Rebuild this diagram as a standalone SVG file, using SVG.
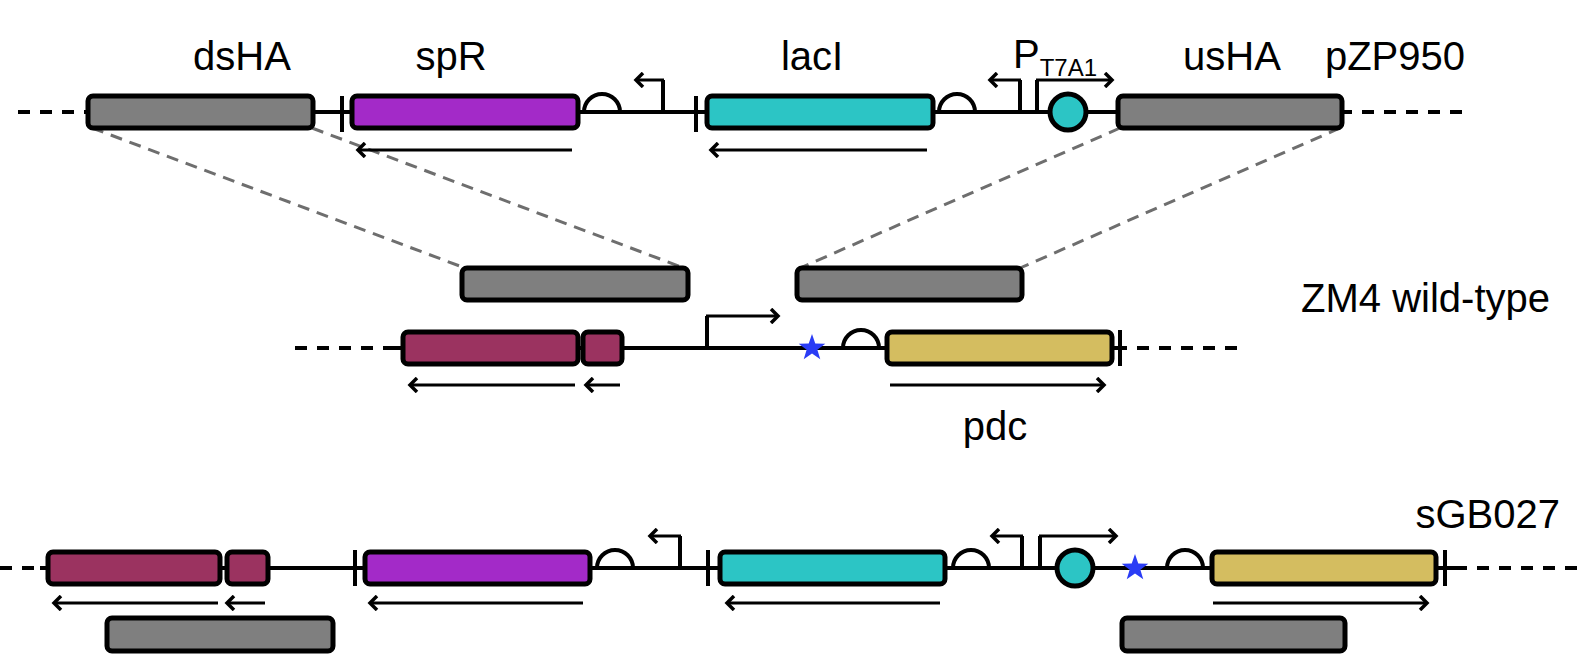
<svg xmlns="http://www.w3.org/2000/svg" width="1580" height="663" viewBox="0 0 1580 663">
<defs>
<style>
.bb{stroke:#000;stroke-width:4;fill:none}
.ds{stroke:#000;stroke-width:4;fill:none;stroke-dasharray:12 10}
.box{stroke:#000;stroke-width:5}
.g{fill:#7f7f7f}.p{fill:#a32ac8}.c{fill:#2cc5c5}.m{fill:#9b3360}.y{fill:#d4bd60}
.ln{stroke:#000;stroke-width:4;fill:none}
.ar{stroke:#000;stroke-width:3;fill:none}
.gd{stroke:#6e6e6e;stroke-width:3;stroke-dasharray:12 8;fill:none}
text{font-family:"Liberation Sans",Arial,sans-serif;font-size:40px;fill:#000}
</style>
<marker id="ah" markerWidth="12" markerHeight="16" refX="9" refY="8" orient="auto" markerUnits="userSpaceOnUse"><path d="M2,1 L9,8 L2,15" fill="none" stroke="#000" stroke-width="3.5"/></marker>
<symbol id="star" viewBox="-12 -12 24 24" overflow="visible"><polygon points="0,-12 2.8,-3.9 11.4,-3.7 4.6,1.5 7.1,9.7 0,4.8 -7.1,9.7 -4.6,1.5 -11.4,-3.7 -2.8,-3.9" fill="#2a3cf5"/></symbol>
</defs>
<g id="backbones">
<path class="ds" d="M18,112H90M1340,112H1465"/><path class="bb" d="M90,112H1340"/>
<path class="ds" d="M295,348H390M1115,348H1240"/><path class="bb" d="M390,348H1115"/>
<path class="ds" d="M0,568H40M1455,568H1580"/><path class="bb" d="M40,568H1455"/>
</g>
<g id="connectors">
<path class="gd" d="M92,128L465,268M312,128L684,268M1120,128L800,268M1340,128L1020,268"/>
<g class="ar" marker-end="url(#ah)">
<path d="M572,150H358"/><path d="M927,150H711"/>
<path d="M575,385H410"/><path d="M620,385H586"/><path d="M890,385H1104"/>
<path d="M218,603H54"/><path d="M265,603H227"/><path d="M583,603H370"/><path d="M940,603H727"/><path d="M1213,603H1427"/>
</g>
</g>
<g id="pZP950">
<rect id="dsHA" class="box g" x="88" y="96" width="225" height="32" rx="5"/>
<path class="ln" d="M342,96V132"/>
<rect id="spR" class="box p" x="352" y="96" width="226" height="32" rx="5"/>
<path class="ln" d="M584,112A18,18 0 0 1 620,112"/>
<path class="ln" d="M663,112V80"/><path class="ar" d="M664,80H636" marker-end="url(#ah)"/>
<path class="ln" d="M696,96V132"/>
<rect id="lacI" class="box c" x="707" y="96" width="226" height="32" rx="5"/>
<path class="ln" d="M939,112A18,18 0 0 1 975,112"/>
<path class="ln" d="M1020,112V80"/><path class="ar" d="M1021,80H990" marker-end="url(#ah)"/>
<path class="ln" d="M1037,112V80"/><path class="ar" d="M1036,80H1112" marker-end="url(#ah)"/>
<circle class="box c" cx="1068" cy="112" r="18"/>
<rect id="usHA" class="box g" x="1118" y="96" width="224" height="32" rx="5"/>
<text x="242" y="70" text-anchor="middle">dsHA</text>
<text x="451" y="70" text-anchor="middle">spR</text>
<text x="812" y="70" text-anchor="middle">lacI</text>
<text x="1013" y="68">P<tspan font-size="24" dy="8">T7A1</tspan></text>
<text x="1232" y="70" text-anchor="middle">usHA</text>
<text x="1465" y="70" text-anchor="end">pZP950</text>
</g>
<g id="HAboxes">
<rect class="box g" x="462" y="268" width="226" height="32" rx="5"/>
<rect class="box g" x="797" y="268" width="225" height="32" rx="5"/>
</g>
<g id="ZM4">
<rect class="box m" x="403" y="332" width="175" height="32" rx="5"/>
<rect class="box m" x="583" y="332" width="39" height="32" rx="5"/>
<path class="ln" d="M707,348V316"/><path class="ar" d="M706,316H778" marker-end="url(#ah)"/>
<use href="#star" x="798" y="334" width="28" height="28"/>
<path class="ln" d="M843,348A18,18 0 0 1 879,348"/>
<rect id="pdc" class="box y" x="887" y="332" width="225" height="32" rx="5"/>
<path class="ln" d="M1120,330V366"/>
<text x="995" y="440" text-anchor="middle">pdc</text>
<text x="1550" y="312" text-anchor="end">ZM4 wild-type</text>
</g>
<g id="sGB027">
<rect class="box m" x="48" y="552" width="172" height="32" rx="5"/>
<rect class="box m" x="227" y="552" width="41" height="32" rx="5"/>
<path class="ln" d="M355,550V586"/>
<rect class="box p" x="365" y="552" width="225" height="32" rx="5"/>
<path class="ln" d="M597,568A18,18 0 0 1 633,568"/>
<path class="ln" d="M680,568V536"/><path class="ar" d="M681,536H650" marker-end="url(#ah)"/>
<path class="ln" d="M708,550V586"/>
<rect class="box c" x="720" y="552" width="225" height="32" rx="5"/>
<path class="ln" d="M953,568A18,18 0 0 1 989,568"/>
<path class="ln" d="M1022,568V536"/><path class="ar" d="M1023,536H992" marker-end="url(#ah)"/>
<path class="ln" d="M1040,568V536"/><path class="ar" d="M1039,536H1116" marker-end="url(#ah)"/>
<circle class="box c" cx="1075" cy="568" r="18"/>
<use href="#star" x="1121" y="554" width="28" height="28"/>
<path class="ln" d="M1167,568A18,18 0 0 1 1203,568"/>
<rect class="box y" x="1212" y="552" width="224" height="32" rx="5"/>
<path class="ln" d="M1445,550V586"/>
<rect class="box g" x="107" y="618" width="226" height="33" rx="5"/>
<rect class="box g" x="1122" y="618" width="223" height="33" rx="5"/>
<text x="1560" y="528" text-anchor="end">sGB027</text>
</g>
</svg>
